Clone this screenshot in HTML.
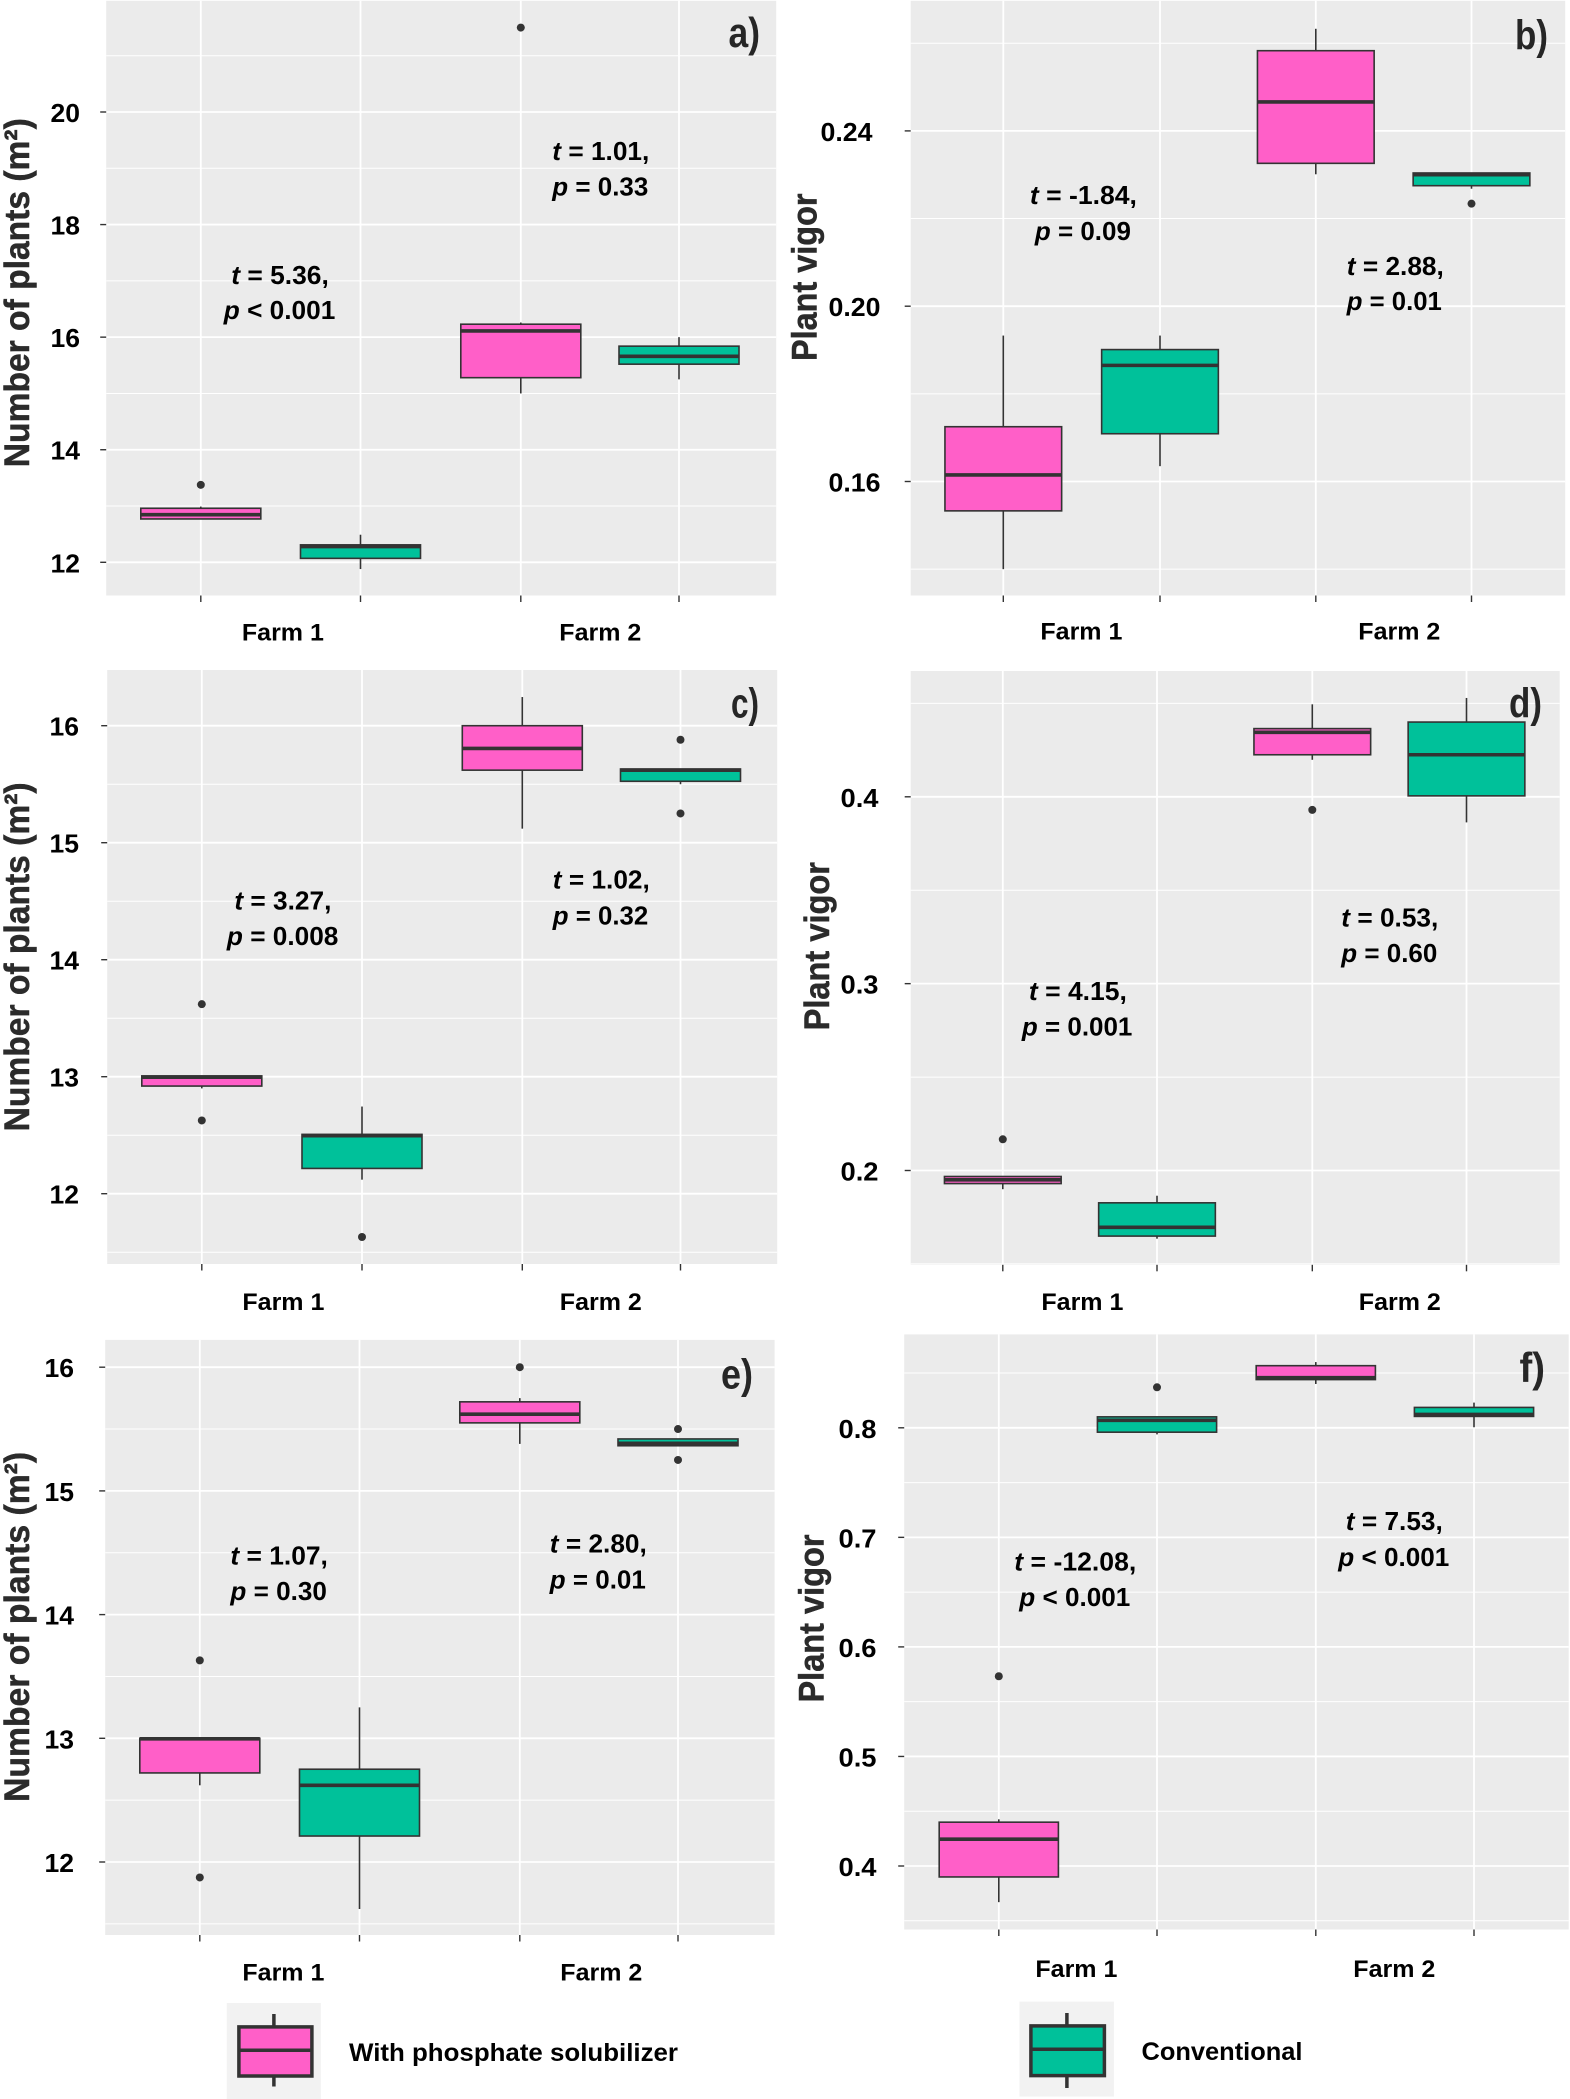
<!DOCTYPE html>
<html lang="en">
<head>
<meta charset="utf-8">
<title>Plant density and vigor boxplots</title>
<style>
  html, body { margin: 0; padding: 0; background: #ffffff; }
  svg { display: block; font-family: "Liberation Sans", sans-serif; font-weight: bold; }
  .note { font-size: 26px; fill: #000000; }
  .letter { font-size: 42px; fill: #262626; }
  .ytitle { font-size: 35px; fill: #2b2b2b; stroke: #2b2b2b; stroke-width: 0.5px; }
  .legend-label { font-size: 25px; fill: #000000; }
</style>
</head>
<body>
<svg id="figure" xmlns="http://www.w3.org/2000/svg" width="1570" height="2099" viewBox="0 0 1570 2099">
  <g id="plots"></g>

  <g>
    <text class="letter" x="728.5" y="47" textLength="31.5" lengthAdjust="spacingAndGlyphs">a)</text>
    <text class="letter" x="1515" y="49.7" textLength="33" lengthAdjust="spacingAndGlyphs">b)</text>
    <text class="letter" x="731" y="717.7" textLength="28" lengthAdjust="spacingAndGlyphs">c)</text>
    <text class="letter" x="1509" y="717.7" textLength="33" lengthAdjust="spacingAndGlyphs">d)</text>
    <text class="letter" x="721" y="1388.6" textLength="32" lengthAdjust="spacingAndGlyphs">e)</text>
    <text class="letter" x="1519.5" y="1382.1" textLength="25.5" lengthAdjust="spacingAndGlyphs">f)</text>
  </g>

  <g>
    <text class="ytitle" transform="translate(29,467.2) rotate(-90)" textLength="349" lengthAdjust="spacingAndGlyphs">Number of plants (m²)</text>
    <text class="ytitle" transform="translate(816.5,361) rotate(-90)" textLength="167.5" lengthAdjust="spacingAndGlyphs">Plant vigor</text>
    <text class="ytitle" transform="translate(29,1131.4) rotate(-90)" textLength="349" lengthAdjust="spacingAndGlyphs">Number of plants (m²)</text>
    <text class="ytitle" transform="translate(829,1030.4) rotate(-90)" textLength="168.4" lengthAdjust="spacingAndGlyphs">Plant vigor</text>
    <text class="ytitle" transform="translate(29,1801.9) rotate(-90)" textLength="350" lengthAdjust="spacingAndGlyphs">Number of plants (m²)</text>
    <text class="ytitle" transform="translate(823.5,1702.5) rotate(-90)" textLength="168" lengthAdjust="spacingAndGlyphs">Plant vigor</text>
  </g>

  <g>
    <text class="note" x="231.3" y="284" textLength="97.5" lengthAdjust="spacingAndGlyphs"><tspan font-style="italic">t</tspan> = 5.36,</text>
    <text class="note" x="223.8" y="319" textLength="111.5" lengthAdjust="spacingAndGlyphs"><tspan font-style="italic">p</tspan> &lt; 0.001</text>
    <text class="note" x="552.3" y="160" textLength="97" lengthAdjust="spacingAndGlyphs"><tspan font-style="italic">t</tspan> = 1.01,</text>
    <text class="note" x="552.3" y="195.7" textLength="96" lengthAdjust="spacingAndGlyphs"><tspan font-style="italic">p</tspan> = 0.33</text>

    <text class="note" x="1029.9" y="204" textLength="107" lengthAdjust="spacingAndGlyphs"><tspan font-style="italic">t</tspan> = -1.84,</text>
    <text class="note" x="1034.9" y="240" textLength="96" lengthAdjust="spacingAndGlyphs"><tspan font-style="italic">p</tspan> = 0.09</text>
    <text class="note" x="1346.8" y="274.8" textLength="97" lengthAdjust="spacingAndGlyphs"><tspan font-style="italic">t</tspan> = 2.88,</text>
    <text class="note" x="1346.8" y="310.2" textLength="95" lengthAdjust="spacingAndGlyphs"><tspan font-style="italic">p</tspan> = 0.01</text>

    <text class="note" x="234.4" y="909.6" textLength="97" lengthAdjust="spacingAndGlyphs"><tspan font-style="italic">t</tspan> = 3.27,</text>
    <text class="note" x="226.9" y="944.9" textLength="111.5" lengthAdjust="spacingAndGlyphs"><tspan font-style="italic">p</tspan> = 0.008</text>
    <text class="note" x="552.8" y="888.5" textLength="97" lengthAdjust="spacingAndGlyphs"><tspan font-style="italic">t</tspan> = 1.02,</text>
    <text class="note" x="552.8" y="924.3" textLength="95.5" lengthAdjust="spacingAndGlyphs"><tspan font-style="italic">p</tspan> = 0.32</text>

    <text class="note" x="1028.9" y="1000" textLength="98" lengthAdjust="spacingAndGlyphs"><tspan font-style="italic">t</tspan> = 4.15,</text>
    <text class="note" x="1021.9" y="1035.4" textLength="110.5" lengthAdjust="spacingAndGlyphs"><tspan font-style="italic">p</tspan> = 0.001</text>
    <text class="note" x="1341.3" y="926.4" textLength="97" lengthAdjust="spacingAndGlyphs"><tspan font-style="italic">t</tspan> = 0.53,</text>
    <text class="note" x="1341.3" y="961.8" textLength="96" lengthAdjust="spacingAndGlyphs"><tspan font-style="italic">p</tspan> = 0.60</text>

    <text class="note" x="230.4" y="1564.4" textLength="97.5" lengthAdjust="spacingAndGlyphs"><tspan font-style="italic">t</tspan> = 1.07,</text>
    <text class="note" x="230.4" y="1600.2" textLength="96.5" lengthAdjust="spacingAndGlyphs"><tspan font-style="italic">p</tspan> = 0.30</text>
    <text class="note" x="549.8" y="1552.5" textLength="97" lengthAdjust="spacingAndGlyphs"><tspan font-style="italic">t</tspan> = 2.80,</text>
    <text class="note" x="549.8" y="1588.3" textLength="96" lengthAdjust="spacingAndGlyphs"><tspan font-style="italic">p</tspan> = 0.01</text>

    <text class="note" x="1014.3" y="1570.4" textLength="122" lengthAdjust="spacingAndGlyphs"><tspan font-style="italic">t</tspan> = -12.08,</text>
    <text class="note" x="1019.3" y="1606.1" textLength="111" lengthAdjust="spacingAndGlyphs"><tspan font-style="italic">p</tspan> &lt; 0.001</text>
    <text class="note" x="1345.8" y="1530.1" textLength="97" lengthAdjust="spacingAndGlyphs"><tspan font-style="italic">t</tspan> = 7.53,</text>
    <text class="note" x="1338.3" y="1565.9" textLength="111" lengthAdjust="spacingAndGlyphs"><tspan font-style="italic">p</tspan> &lt; 0.001</text>
  </g>

  <g>
    <g>
      <rect x="226.8" y="2003" width="94" height="96" fill="#f2f2f2"/>
      <line x1="273.9" y1="2014" x2="273.9" y2="2086.5" stroke="#333333" stroke-width="3.5"/>
      <rect x="238.9" y="2026.9" width="73" height="49.1" fill="#ff5fc8" stroke="#333333" stroke-width="3.5"/>
      <line x1="238.9" y1="2050.2" x2="311.9" y2="2050.2" stroke="#333333" stroke-width="3.5"/>
      <text class="legend-label" x="349" y="2061.2" textLength="329" lengthAdjust="spacingAndGlyphs">With phosphate solubilizer</text>
    </g>
    <g>
      <rect x="1019.4" y="2001.6" width="94.5" height="95" fill="#f2f2f2"/>
      <line x1="1066.9" y1="2013" x2="1066.9" y2="2088" stroke="#333333" stroke-width="3.5"/>
      <rect x="1030.9" y="2025.9" width="73.5" height="49.7" fill="#00c19a" stroke="#333333" stroke-width="3.5"/>
      <line x1="1030.9" y1="2049.3" x2="1104.4" y2="2049.3" stroke="#333333" stroke-width="3.5"/>
      <text class="legend-label" x="1141.5" y="2060.2" textLength="161" lengthAdjust="spacingAndGlyphs">Conventional</text>
    </g>
  </g>
</svg>

<script>
// Shared categories
const farms = ['Farm 1', 'Farm 2'];
const treatments = ['With phosphate solubilizer', 'Conventional'];

// Box order in each array: Farm 1 solubilizer, Farm 1 conventional, Farm 2 solubilizer, Farm 2 conventional

// Panel a: Number of plants
const aUpper = [12.99, 12.49, 16.26, 16.0];
const aQ3 = [12.96, 12.31, 16.23, 15.84];
const aMedian = [12.845, 12.28, 16.11, 15.66];
const aQ1 = [12.77, 12.07, 15.28, 15.52];
const aLower = [12.77, 11.88, 15.0, 15.25];
const aOutliers = [[13.376], [], [21.5], []];
const aTicks = [12, 14, 16, 18, 20];
const aTickLabels = ['12', '14', '16', '18', '20'];
const aMinor = [13, 15, 17, 19, 21];

// Panel b: Plant vigor
const bUpper = [0.1933, 0.1933, 0.2633, 0.2304];
const bQ3 = [0.1725, 0.1901, 0.2583, 0.2304];
const bMedian = [0.1615, 0.1865, 0.2466, 0.23];
const bQ1 = [0.1533, 0.1709, 0.2326, 0.2275];
const bLower = [0.14, 0.1635, 0.2301, 0.2268];
const bOutliers = [[], [], [], [0.2234]];
const bTicks = [0.16, 0.20, 0.24];
const bTickLabels = ['0.16', '0.20', '0.24'];
const bMinor = [0.14, 0.18, 0.22, 0.26];

// Panel c: Number of plants
const cUpper = [13.007, 12.745, 16.245, 15.63];
const cQ3 = [13.007, 12.507, 16.0, 15.63];
const cMedian = [12.996, 12.496, 15.806, 15.62];
const cQ1 = [12.92, 12.216, 15.62, 15.525];
const cLower = [12.90, 12.12, 15.12, 15.5];
const cOutliers = [[13.62, 12.626], [11.63], [], [15.88, 15.25]];
const cTicks = [12, 13, 14, 15, 16];
const cTickLabels = ['12', '13', '14', '15', '16'];
const cMinor = [11.5, 12.5, 13.5, 14.5, 15.5];

// Panel d: Plant vigor
const dUpper = [0.1968, 0.1865, 0.4495, 0.4529];
const dQ3 = [0.1968, 0.1827, 0.4365, 0.44];
const dMedian = [0.195, 0.1696, 0.4345, 0.4225];
const dQ1 = [0.193, 0.1649, 0.4225, 0.4005];
const dLower = [0.19, 0.1635, 0.4198, 0.3863];
const dOutliers = [[0.2167], [], [0.393], []];
const dTicks = [0.2, 0.3, 0.4];
const dTickLabels = ['0.2', '0.3', '0.4'];
const dMinor = [0.15, 0.25, 0.35, 0.45];

// Panel e: Number of plants
const eUpper = [13.0, 13.25, 15.75, 15.42];
const eQ3 = [13.0, 12.75, 15.72, 15.42];
const eMedian = [12.996, 12.62, 15.62, 15.385];
const eQ1 = [12.72, 12.21, 15.55, 15.365];
const eLower = [12.62, 11.62, 15.38, 15.365];
const eOutliers = [[13.63, 11.875], [], [16], [15.5, 15.25]];
const eTicks = [12, 13, 14, 15, 16];
const eTickLabels = ['12', '13', '14', '15', '16'];
const eMinor = [11.5, 12.5, 13.5, 14.5, 15.5];

// Panel f: Plant vigor
const fUpper = [0.4426, 0.81, 0.86, 0.823];
const fQ3 = [0.44, 0.81, 0.8567, 0.8186];
const fMedian = [0.4245, 0.8068, 0.8458, 0.8122];
const fQ1 = [0.39, 0.796, 0.844, 0.8104];
const fLower = [0.367, 0.794, 0.84, 0.8005];
const fOutliers = [[0.5732], [0.837], [], []];
const fTicks = [0.4, 0.5, 0.6, 0.7, 0.8];
const fTickLabels = ['0.4', '0.5', '0.6', '0.7', '0.8'];
const fMinor = [0.35, 0.45, 0.55, 0.65, 0.75, 0.85];

// Colours
const fills = ['#ff5fc8', '#00c19a'];
const darkInk = '#333333';

// Panel frames and axis calibration (layout only)
const panels = [
  { id: 'a', left: 106.2, right: 776.2, top: 0.8, bottom: 595.5, slots: [200.8, 360.5, 520.8, 679], boxW: 120,
    v0: 12, y0: 562.3, v1: 20, y1: 112, labelRight: 80, labelW: 29.5, farmX: [241.9, 559.3], farmBase: 640.6,
    upper: aUpper, q3: aQ3, median: aMedian, q1: aQ1, lower: aLower, outliers: aOutliers,
    ticks: aTicks, tickLabels: aTickLabels, minor: aMinor },
  { id: 'b', left: 910.7, right: 1565.2, top: 0.8, bottom: 595.5, slots: [1003.3, 1160, 1315.8, 1471.5], boxW: 116.7,
    v0: 0.16, y0: 481.5, v1: 0.24, y1: 130.9, labelRight: 880.5, labelW: 52, farmX: [1040.4, 1358.3], farmBase: 639.7,
    shiftLastLabel: -8,
    upper: bUpper, q3: bQ3, median: bMedian, q1: bQ1, lower: bLower, outliers: bOutliers,
    ticks: bTicks, tickLabels: bTickLabels, minor: bMinor },
  { id: 'c', left: 107.2, right: 777.2, top: 670, bottom: 1264, slots: [201.8, 362, 522.3, 680.5], boxW: 120,
    v0: 12, y0: 1193.7, v1: 16, y1: 725.7, labelRight: 79, labelW: 29.5, farmX: [242.4, 559.8], farmBase: 1310,
    upper: cUpper, q3: cQ3, median: cMedian, q1: cQ1, lower: cLower, outliers: cOutliers,
    ticks: cTicks, tickLabels: cTickLabels, minor: cMinor },
  { id: 'd', left: 910.7, right: 1559.7, top: 671, bottom: 1264.8, slots: [1002.8, 1157, 1312.3, 1466.5], boxW: 116.7,
    v0: 0.2, y0: 1170.5, v1: 0.4, y1: 796.8, labelRight: 878.5, labelW: 38, farmX: [1041.4, 1358.8], farmBase: 1310,
    upper: dUpper, q3: dQ3, median: dMedian, q1: dQ1, lower: dLower, outliers: dOutliers,
    ticks: dTicks, tickLabels: dTickLabels, minor: dMinor },
  { id: 'e', left: 105.2, right: 774.6, top: 1339.9, bottom: 1935, slots: [199.8, 359.5, 519.8, 678], boxW: 120,
    v0: 12, y0: 1862, v1: 16, y1: 1367.2, labelRight: 74, labelW: 29.5, farmX: [242.4, 560.3], farmBase: 1980.7,
    upper: eUpper, q3: eQ3, median: eMedian, q1: eQ1, lower: eLower, outliers: eOutliers,
    ticks: eTicks, tickLabels: eTickLabels, minor: eMinor },
  { id: 'f', left: 904.2, right: 1568.7, top: 1334.4, bottom: 1929.5, slots: [998.8, 1157, 1315.8, 1474], boxW: 119.2,
    v0: 0.4, y0: 1866, v1: 0.8, y1: 1427.8, labelRight: 876.5, labelW: 38, farmX: [1035.4, 1353.3], farmBase: 1977.2,
    upper: fUpper, q3: fQ3, median: fMedian, q1: fQ1, lower: fLower, outliers: fOutliers,
    ticks: fTicks, tickLabels: fTickLabels, minor: fMinor }
];

const NS = 'http://www.w3.org/2000/svg';
const plotsRoot = document.getElementById('plots');

function svgEl(tag, attrs, parent) {
  const node = document.createElementNS(NS, tag);
  Object.keys(attrs).forEach(function (k) { node.setAttribute(k, attrs[k]); });
  parent.appendChild(node);
  return node;
}

function makeYScale(p) {
  const slope = (p.y1 - p.y0) / (p.v1 - p.v0);
  return function (v) { return p.y0 + (v - p.v0) * slope; };
}

function hLine(parent, x1, x2, y, color, width) {
  return svgEl('line', { x1: x1, x2: x2, y1: y, y2: y, stroke: color, 'stroke-width': width }, parent);
}

function vLine(parent, x, y1, y2, color, width) {
  return svgEl('line', { x1: x, x2: x, y1: y1, y2: y2, stroke: color, 'stroke-width': width }, parent);
}

function drawPanel(p) {
  const y = makeYScale(p);

  const g = svgEl('g', {}, plotsRoot);
  
  

  const bg = svgEl('rect', { x: p.left, y: p.top, width: p.right - p.left, height: p.bottom - p.top, fill: '#ebebeb' }, g);
  
  

  p.minor.forEach(function (v) {
    const el = hLine(g, p.left, p.right, y(v), '#ffffff', 1);
    
    
  });

  p.ticks.forEach(function (v, i) {
    const grid = hLine(g, p.left, p.right, y(v), '#ffffff', 1.8);
    
    

    const tick = hLine(g, p.left - 6, p.left, y(v), darkInk, 1.4);
    
    

    const shift = (p.shiftLastLabel && i === p.ticks.length - 1) ? p.shiftLastLabel : 0;
    const label = svgEl('text', {
      x: p.labelRight + shift - p.labelW,
      y: y(v) + 10,
      'font-size': 26,
      fill: '#000000',
      textLength: p.labelW,
      lengthAdjust: 'spacingAndGlyphs'
    }, g);
    
    
    label.textContent = p.tickLabels[i];
  });

  p.slots.forEach(function (x) {
    const grid = vLine(g, x, p.top, p.bottom, '#ffffff', 1.8);
    
    

    const tick = vLine(g, x, p.bottom, p.bottom + 6.5, darkInk, 1.4);
    
    
  });

  farms.forEach(function (name, i) {
    const label = svgEl('text', {
      x: p.farmX[i],
      y: p.farmBase,
      'font-size': 24,
      fill: '#000000',
      textLength: 82,
      lengthAdjust: 'spacingAndGlyphs'
    }, g);
    
    
    label.textContent = name;
  });

  p.slots.forEach(function (x, i) {
    const fill = fills[i % 2];

    const group = svgEl('g', {}, g);
    
    

    const wUp = vLine(group, x, y(p.upper[i]), y(p.q3[i]), darkInk, 1.6);
    
    

    const wDown = vLine(group, x, y(p.q1[i]), y(p.lower[i]), darkInk, 1.6);
    
    

    const box = svgEl('rect', {
      x: x - p.boxW / 2,
      y: y(p.q3[i]),
      width: p.boxW,
      height: y(p.q1[i]) - y(p.q3[i]),
      fill: fill,
      stroke: darkInk,
      'stroke-width': 1.6
    }, group);
    
    

    const med = hLine(group, x - p.boxW / 2, x + p.boxW / 2, y(p.median[i]), darkInk, 3.6);
    
    

    p.outliers[i].forEach(function (v) {
      const dot = svgEl('circle', { cx: x, cy: y(v), r: 4, fill: darkInk }, group);
      
      
    });
  });
}

panels.forEach(drawPanel);
</script>
</body>
</html>
